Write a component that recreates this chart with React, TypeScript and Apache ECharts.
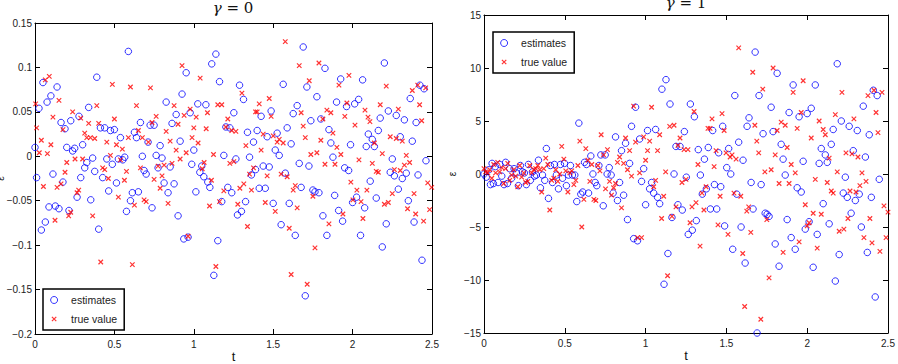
import React, { useEffect, useRef } from "react";
import * as echarts from "echarts";

// γ = 0 panel: estimated and true ε over t
const g0Estimates: [number, number][] = [
  [0, 0.010], [0.01, -0.024], [0.025, 0.054], [0.04, -0.083], [0.05, 0.083], [0.065, -0.074], [0.076, 0.061], [0.088, -0.057], [0.10, 0.068], [0.113, -0.020],
  [0.128, -0.056], [0.139, 0.078], [0.151, -0.059], [0.164, 0.038], [0.176, -0.029], [0.189, 0.031], [0.20, 0.010], [0.214, -0.061], [0.225, 0.040], [0.237, 0.006],
  [0.25, 0.009], [0.265, -0.046], [0.277, 0.045], [0.288, -0.024], [0.30, 0.013], [0.313, -0.013], [0.326, -0.007], [0.338, 0.055], [0.351, -0.049], [0.363, -0.002],
  [0.376, -0.017], [0.389, 0.089], [0.401, -0.082], [0.412, 0.032], [0.426, -0.024], [0.439, 0.032], [0.452, -0.003], [0.464, -0.039], [0.475, 0.029], [0.487, -0.009],
  [0.50, 0.030], [0.513, -0.030], [0.525, -0.003], [0.538, 0.021], [0.553, -0.004], [0.565, -0.001], [0.576, -0.062], [0.588, 0.118], [0.601, -0.050], [0.613, -0.041],
  [0.626, 0.027], [0.639, 0.021], [0.651, -0.040], [0.664, 0.038], [0.676, 0.000], [0.687, -0.016], [0.70, -0.020], [0.712, 0.016], [0.725, 0.035], [0.737, -0.058],
  [0.75, 0.035], [0.763, 0.001], [0.775, -0.013], [0.788, 0.012], [0.80, -0.002], [0.813, -0.030], [0.826, 0.061], [0.838, -0.041], [0.851, -0.012], [0.863, 0.037],
  [0.876, -0.031], [0.889, 0.047], [0.901, -0.067], [0.914, 0.017], [0.926, 0.070], [0.937, -0.093], [0.952, 0.094], [0.964, -0.091], [0.977, 0.049], [0.987, -0.009],
  [1.0, 0.007], [1.013, -0.040], [1.025, 0.059], [1.038, -0.018], [1.050, -0.011], [1.063, -0.023], [1.076, 0.058], [1.088, -0.029], [1.101, -0.035], [1.113, 0.104],
  [1.126, -0.134], [1.139, 0.115], [1.151, -0.095], [1.162, 0.084], [1.176, -0.051], [1.189, 0.001], [1.202, 0.033], [1.214, -0.035], [1.227, 0.032], [1.239, -0.041],
  [1.252, 0.049], [1.265, -0.003], [1.275, -0.066], [1.288, 0.080], [1.300, -0.062], [1.313, 0.064], [1.326, -0.051], [1.338, 0.027], [1.351, -0.001], [1.363, -0.021],
  [1.376, 0.016], [1.389, -0.015], [1.399, 0.029], [1.412, -0.036], [1.424, 0.045], [1.437, -0.011], [1.45, -0.036], [1.462, 0.022], [1.475, -0.012], [1.487, 0.051],
  [1.50, -0.053], [1.513, 0.007], [1.525, 0.026], [1.538, 0.001], [1.550, -0.077], [1.563, 0.081], [1.576, -0.019], [1.588, 0.032], [1.601, -0.053], [1.613, 0.014],
  [1.626, 0.048], [1.639, -0.089], [1.651, 0.057], [1.664, -0.008], [1.676, -0.035], [1.689, 0.123], [1.702, -0.157], [1.712, 0.078], [1.725, -0.011], [1.737, 0.040],
  [1.75, -0.038], [1.763, -0.040], [1.775, 0.067], [1.788, -0.041], [1.80, 0.042], [1.813, -0.067], [1.826, 0.099], [1.838, -0.089], [1.851, 0.030], [1.863, 0.015],
  [1.876, -0.001], [1.887, -0.044], [1.899, 0.061], [1.912, -0.061], [1.925, 0.087], [1.937, -0.073], [1.950, -0.013], [1.962, 0.056], [1.975, -0.016], [1.987, 0.013],
  [2.0, -0.052], [2.013, 0.059], [2.025, -0.046], [2.038, 0.064], [2.050, -0.089], [2.063, 0.086], [2.076, -0.058], [2.086, 0.011], [2.099, 0.025], [2.111, -0.028],
  [2.124, 0.019], [2.137, 0.011], [2.149, -0.047], [2.162, 0.029], [2.174, 0.043], [2.187, -0.102], [2.2, 0.105], [2.212, -0.076], [2.225, 0.051], [2.237, -0.018],
  [2.25, -0.003], [2.263, -0.022], [2.275, 0.046], [2.288, -0.037], [2.30, 0.022], [2.313, -0.025], [2.326, 0.041], [2.338, -0.019], [2.351, -0.050], [2.363, 0.065],
  [2.376, 0.017], [2.387, -0.074], [2.40, 0.038], [2.412, -0.021], [2.424, 0.080], [2.437, -0.117], [2.45, 0.076], [2.462, -0.005],
];

const g0TrueValues: [number, number][] = [
  [0.004, 0.059], [0.01, 0.032], [0.027, 0.004], [0.04, 0.018], [0.053, -0.034], [0.065, 0.086], [0.078, 0.003], [0.09, 0.090], [0.10, 0.013], [0.113, 0.044],
  [0.126, -0.072], [0.139, -0.035], [0.151, 0.063], [0.164, -0.031], [0.176, 0.030], [0.189, -0.018], [0.20, -0.007], [0.212, -0.067], [0.225, -0.063], [0.237, 0.050],
  [0.252, -0.003], [0.265, -0.041], [0.275, -0.038], [0.288, 0.043], [0.30, -0.003], [0.313, 0.026], [0.326, 0.021], [0.338, 0.037], [0.349, 0.021], [0.363, -0.067],
  [0.376, 0.020], [0.389, 0.057], [0.401, 0.037], [0.414, -0.119], [0.426, -0.013], [0.439, -0.015], [0.452, 0.016], [0.462, -0.025], [0.475, 0.001], [0.487, 0.081],
  [0.50, 0.042], [0.513, 0.013], [0.525, -0.046], [0.538, -0.004], [0.550, 0.008], [0.563, -0.027], [0.576, -0.017], [0.588, 0.021], [0.601, 0.078], [0.613, -0.122],
  [0.626, -0.055], [0.639, 0.057], [0.651, 0.029], [0.664, -0.013], [0.676, 0.021], [0.687, -0.049], [0.70, -0.051], [0.714, 0.016], [0.727, 0.077], [0.737, 0.038],
  [0.75, -0.026], [0.763, 0.045], [0.775, -0.011], [0.788, -0.036], [0.80, -0.022], [0.813, -0.010], [0.826, 0.028], [0.838, -0.053], [0.851, 0.017], [0.863, -0.008],
  [0.876, 0.057], [0.889, 0.007], [0.901, 0.036], [0.914, -0.003], [0.926, 0.102], [0.939, 0.046], [0.952, 0.004], [0.964, -0.090], [0.977, 0.053], [0.989, 0.021],
  [1.0, 0.032], [1.015, 0.044], [1.027, 0.015], [1.04, 0.088], [1.053, -0.014], [1.065, -0.007], [1.078, 0.031], [1.086, 0.049], [1.099, -0.056], [1.111, -0.027],
  [1.124, 0.002], [1.139, -0.124], [1.151, 0.058], [1.162, -0.051], [1.176, 0.058], [1.189, -0.039], [1.202, 0.033], [1.214, 0.042], [1.227, -0.008], [1.239, 0.029],
  [1.252, -0.006], [1.265, 0.028], [1.277, -0.054], [1.290, -0.036], [1.303, 0.071], [1.315, -0.031], [1.328, 0.012], [1.338, -0.079], [1.351, -0.020], [1.363, -0.038],
  [1.376, -0.013], [1.389, 0.050], [1.399, 0.050], [1.412, 0.059], [1.424, 0.007], [1.437, 0.025], [1.450, -0.052], [1.462, -0.022], [1.475, 0.065], [1.487, 0.045],
  [1.50, 0.023], [1.513, -0.062], [1.525, 0.016], [1.538, 0.019], [1.550, -0.020], [1.563, 0.015], [1.576, 0.129], [1.588, -0.023], [1.601, -0.081], [1.613, -0.133],
  [1.626, -0.038], [1.639, -0.033], [1.651, -0.058], [1.664, 0.102], [1.676, 0.049], [1.689, 0.034], [1.702, 0.021], [1.714, -0.144], [1.727, 0.085], [1.737, 0.002],
  [1.750, -0.045], [1.763, -0.103], [1.775, 0.004], [1.788, 0.105], [1.80, 0.018], [1.813, 0.042], [1.826, -0.009], [1.838, 0.052], [1.851, -0.076], [1.863, 0.049],
  [1.876, 0.026], [1.889, -0.009], [1.901, 0.010], [1.914, 0.080], [1.926, 0.002], [1.939, -0.065], [1.951, 0.045], [1.964, 0.060], [1.977, 0.091], [1.989, -0.029],
  [2.002, -0.049], [2.015, 0.035], [2.027, -0.038], [2.040, -0.004], [2.053, -0.051], [2.065, -0.070], [2.078, 0.052], [2.090, -0.038], [2.097, 0.044], [2.109, 0.039],
  [2.124, -0.008], [2.137, 0.015], [2.149, -0.017], [2.162, -0.018], [2.174, 0.058], [2.187, 0.003], [2.2, -0.054], [2.212, 0.079], [2.225, -0.052], [2.237, 0.022],
  [2.250, -0.042], [2.263, -0.015], [2.275, 0.020], [2.288, 0.053], [2.30, -0.016], [2.313, 0.017], [2.326, -0.010], [2.338, 0.001], [2.346, -0.059], [2.359, -0.007],
  [2.376, 0.074], [2.387, -0.042], [2.397, -0.065], [2.410, 0.080], [2.422, 0.058], [2.435, 0.040], [2.447, -0.073], [2.460, 0.077], [2.473, -0.030], [2.485, -0.060],
  [2.498, -0.035],
];

// γ = 1 panel: estimated and true ε over t
const g1Estimates: [number, number][] = [
  [0, 0], [0.014, -0.3], [0.03, 0.4], [0.04, -1.0], [0.05, 1.0], [0.058, -0.9], [0.07, 0.7], [0.087, -0.8], [0.097, 0.9], [0.11, -0.2],
  [0.124, -1.0], [0.134, 1.1], [0.145, -0.9], [0.159, 0.5], [0.171, -0.4], [0.186, 0.5], [0.2, 0.1], [0.213, -1.1], [0.225, 0.8], [0.238, 0.2],
  [0.25, 0.1], [0.262, -1.0], [0.275, 0.9], [0.287, -0.6], [0.3, 0.2], [0.312, -0.2], [0.324, -0.1], [0.337, 1.3], [0.349, -1.3], [0.362, -0.1],
  [0.376, -0.6], [0.386, 2.4], [0.399, -2.3], [0.411, 0.8], [0.424, -0.8], [0.436, 0.9], [0.448, -0.1], [0.461, -1.4], [0.473, 0.9], [0.486, -0.4],
  [0.498, 1.0], [0.51, -1.1], [0.523, -0.1], [0.535, 0.8], [0.547, -0.1], [0.562, -0.1], [0.574, -2.6], [0.587, 4.8], [0.599, -1.9], [0.611, -1.7],
  [0.622, 1.1], [0.634, 0.9], [0.647, -1.8], [0.661, 1.7], [0.674, 0.0], [0.688, -0.8], [0.698, -1.1], [0.711, 0.8], [0.723, 1.8], [0.738, -3.0],
  [0.75, 1.8], [0.762, 0.0], [0.775, 0.6], [0.787, -0.1], [0.799, -1.8], [0.814, 3.5], [0.826, -2.5], [0.839, -0.8], [0.851, 2.2], [0.864, -2.0],
  [0.876, 2.9], [0.888, -4.3], [0.901, 1.0], [0.913, 4.5], [0.926, -6.1], [0.938, 6.3], [0.95, -6.3], [0.963, 3.3], [0.975, -0.7], [0.988, 0.5],
  [1.0, -2.9], [1.012, 4.1], [1.025, -1.4], [1.037, -0.8], [1.05, -1.8], [1.062, 4.2], [1.074, -2.2], [1.087, -2.8], [1.101, 8.0], [1.114, -10.4],
  [1.126, 8.9], [1.138, -7.5], [1.151, 6.6], [1.163, -4.1], [1.176, 0.0], [1.188, 2.6], [1.2, -2.9], [1.213, 2.6], [1.227, -3.4], [1.24, 4.0],
  [1.252, -0.3], [1.264, -5.7], [1.277, 6.6], [1.289, -5.3], [1.302, 5.4], [1.314, -4.4], [1.326, 2.3], [1.339, -0.1], [1.351, -1.9], [1.364, 1.4],
  [1.376, -1.4], [1.388, 2.5], [1.401, -3.3], [1.415, 4.1], [1.426, -1.0], [1.44, -3.3], [1.452, 2.0], [1.465, -1.2], [1.477, 4.5], [1.489, -4.9],
  [1.502, 0.6], [1.514, 2.4], [1.527, 0.0], [1.539, -7.1], [1.552, 7.4], [1.564, -1.9], [1.576, 3.0], [1.591, -5.0], [1.603, 1.3], [1.616, -8.4],
  [1.628, 4.5], [1.64, 5.3], [1.653, -0.8], [1.665, -3.3], [1.678, 11.5], [1.69, -15], [1.702, 7.4], [1.715, -1.0], [1.727, 3.8], [1.74, -3.7],
  [1.752, -3.8], [1.764, -4.0], [1.777, 6.3], [1.789, 4.0], [1.802, -6.6], [1.814, 9.5], [1.826, -8.7], [1.839, 2.8], [1.851, 1.4], [1.864, -0.1],
  [1.876, -4.3], [1.888, 5.8], [1.901, -6.0], [1.913, 8.4], [1.926, -7.1], [1.938, -1.3], [1.95, 5.4], [1.963, -1.7], [1.975, 1.2], [1.988, -5.2],
  [2.0, 5.7], [2.012, -4.5], [2.025, 6.2], [2.037, -8.8], [2.05, 8.4], [2.062, -5.7], [2.074, 1.0], [2.087, 2.4], [2.099, -2.8], [2.112, 1.8],
  [2.124, 1.1], [2.136, -4.7], [2.149, 2.8], [2.161, 4.2], [2.174, -10.1], [2.186, 10.4], [2.198, -7.6], [2.211, 5.0], [2.223, -1.8], [2.236, -0.3],
  [2.248, -2.2], [2.26, 4.5], [2.272, -3.7], [2.285, 2.2], [2.298, -2.5], [2.31, 4.1], [2.322, -1.9], [2.335, -5.0], [2.347, 6.4], [2.36, 1.6],
  [2.372, -7.4], [2.384, 3.7], [2.397, -2.2], [2.409, 7.9], [2.421, -11.6], [2.433, 7.4], [2.446, -0.5],
];

const g1TrueValues: [number, number][] = [
  [0, 0.5], [0.01, 0.2], [0.023, 0.1], [0.035, 0.4], [0.048, -0.4], [0.06, 0.9], [0.072, 0.1], [0.085, 1.1], [0.097, 0.2], [0.11, 0.6],
  [0.122, -0.9], [0.134, 0.5], [0.147, 1.0], [0.159, -0.6], [0.171, -0.1], [0.184, 0.4], [0.196, -0.2], [0.209, -1.2], [0.221, 0.8], [0.233, -0.3],
  [0.246, 0.1], [0.258, -0.8], [0.271, -0.7], [0.283, 0.8], [0.295, 0.1], [0.308, 0.4], [0.32, 0.5], [0.333, 0.8], [0.345, 0.4], [0.357, -1.7],
  [0.37, 0.5], [0.382, 1.5], [0.395, 0.9], [0.407, -3.4], [0.419, -0.6], [0.432, -0.4], [0.444, 0.4], [0.457, -0.7], [0.469, 0.0], [0.481, 2.6],
  [0.494, 1.4], [0.506, 0.3], [0.519, -1.7], [0.531, 0.1], [0.543, 0.3], [0.556, -1.0], [0.568, -0.6], [0.581, 0.8], [0.593, 3.1], [0.605, -5.0],
  [0.618, -2.4], [0.63, 2.4], [0.643, 1.3], [0.655, -0.7], [0.667, 0.9], [0.68, -2.4], [0.692, -2.5], [0.705, 0.8], [0.717, 0.3], [0.725, 3.7],
  [0.74, 1.8], [0.752, -1.4], [0.764, 2.3], [0.777, -0.7], [0.789, -2.0], [0.802, -1.3], [0.814, -0.9], [0.826, 1.1], [0.839, 1.6], [0.851, -3.2],
  [0.864, 1.0], [0.876, 3.4], [0.888, 0.4], [0.901, 2.2], [0.913, -0.2], [0.926, 6.4], [0.938, 3.0], [0.95, -6.0], [0.963, 0.1], [0.975, -6.0],
  [0.988, 3.5], [1.0, 1.3], [1.012, 2.2], [1.025, 3.1], [1.037, 6.3], [1.05, -1.2], [1.062, -0.6], [1.074, 2.2], [1.087, 3.7], [1.099, -4.2],
  [1.112, -2.1], [1.124, 0.2], [1.136, -9.6], [1.149, 4.5], [1.163, -4.0], [1.176, 4.6], [1.188, -3.1], [1.2, 2.7], [1.213, 3.4], [1.225, -0.8],
  [1.238, 2.3], [1.25, -0.5], [1.262, 2.3], [1.275, -4.6], [1.287, -3.1], [1.3, 5.9], [1.312, -2.7], [1.324, 0.9], [1.337, -6.8], [1.349, -1.8],
  [1.361, -3.4], [1.374, -1.2], [1.386, 4.3], [1.399, 4.3], [1.411, 5.2], [1.424, 0.7], [1.436, 2.2], [1.448, -4.8], [1.461, -2.1], [1.473, 5.7],
  [1.486, 4.1], [1.498, 2.0], [1.51, -5.7], [1.523, 1.6], [1.535, 1.8], [1.547, -1.8], [1.56, 1.4], [1.576, 11.9], [1.589, -2.1], [1.601, -7.5],
  [1.613, -12.5], [1.626, -3.5], [1.638, -3.1], [1.651, -5.5], [1.663, 9.6], [1.676, 4.6], [1.688, 3.1], [1.7, 2.0], [1.713, -13.7], [1.725, 8.0],
  [1.738, 0.2], [1.75, -4.3], [1.764, -9.8], [1.777, 0.4], [1.789, 10.0], [1.802, 1.8], [1.814, 4.1], [1.826, -0.9], [1.839, 4.9], [1.851, -7.4],
  [1.864, 4.6], [1.876, 2.5], [1.888, -0.9], [1.901, 0.9], [1.913, 7.7], [1.926, 0.1], [1.938, 4.3], [1.95, -6.4], [1.963, 5.8], [1.975, 8.8],
  [1.988, -2.9], [2.0, -4.9], [2.012, -4.6], [2.025, 3.4], [2.037, -3.7], [2.05, -0.5], [2.062, -7.0], [2.074, 5.0], [2.087, -3.8], [2.099, 4.2],
  [2.112, 3.7], [2.124, -0.8], [2.136, 1.5], [2.149, -1.6], [2.161, -1.8], [2.174, 5.6], [2.186, 0.2], [2.198, -5.4], [2.215, 7.7], [2.227, -5.2],
  [2.24, 2.0], [2.252, -4.2], [2.265, -1.6], [2.277, 1.9], [2.289, 5.2], [2.302, -1.7], [2.314, 1.6], [2.326, -1.1], [2.339, 0.1], [2.351, -6.0],
  [2.364, -0.7], [2.376, 7.4], [2.388, -4.2], [2.401, -6.5], [2.413, 7.9], [2.426, 5.8], [2.438, 3.9], [2.45, -7.3], [2.463, 7.7], [2.475, -3.0],
  [2.488, -6.0], [2.5, -3.6],
];

const gammaValues = ["0", "1"];
const seriesNames = ["estimates", "true value"];
const tRange = [0, 2.5, 0.5];
const epsRanges = [
  [-0.2, 0.15, 0.05],
  [-15, 15, 5],
];

const FONT = '"Liberation Sans", Arial, Helvetica, sans-serif';
const SERIF = '"DejaVu Serif", "Liberation Serif", serif';
const CROSS = "path://M0,0L10,10M10,0L0,10";

const fmt = (v: number) => String(+v.toFixed(3)).replace("-", "\u2212");

export default function App() {
  const ref = useRef<HTMLDivElement>(null);

  useEffect(() => {
    if (!ref.current) return;
    const chart = echarts.init(ref.current, null, { renderer: "svg" });

    const grids = [
      { left: 35, top: 23, width: 397, height: 311, containLabel: false, outerBoundsMode: "none" },
      { left: 484, top: 15, width: 404, height: 318, containLabel: false, outerBoundsMode: "none" },
    ];
    const yNameGaps = [30, 27];
    const titlePos = [
      { left: 233, top: 0 },
      { left: 686, top: -5 },
    ];
    const legendPos = [
      { left: 43, top: 289 },
      { left: 493, top: 32 },
    ];
    const panels = [
      [g0Estimates, g0TrueValues],
      [g1Estimates, g1TrueValues],
    ];

    const frameLine = { onZero: false, lineStyle: { color: "#000", width: 1 } };
    const tick = { inside: true, length: 5, lineStyle: { color: "#000", width: 1 } };
    const label = { fontSize: 10, color: "#222", fontFamily: FONT, formatter: fmt };

    const xAxis: any[] = [];
    const yAxis: any[] = [];
    const series: any[] = [];

    grids.forEach((_, i) => {
      const [yMin, yMax, yStep] = epsRanges[i];
      const xBase = { gridIndex: i, type: "value", min: tRange[0], max: tRange[1], interval: tRange[2], splitLine: { show: false }, axisLine: frameLine, axisTick: tick };
      const yBase = { gridIndex: i, type: "value", min: yMin, max: yMax, interval: yStep, splitLine: { show: false }, axisLine: frameLine, axisTick: tick };
      xAxis.push({
        ...xBase,
        position: "bottom",
        axisLabel: { ...label, margin: 5 },
        name: "t",
        nameLocation: "middle",
        nameGap: 16,
        nameMoveOverlap: false,
        nameTextStyle: { fontSize: 13, color: "#111", fontFamily: FONT, lineHeight: 13 },
      });
      xAxis.push({ ...xBase, position: "top", axisLabel: { show: false } });
      yAxis.push({
        ...yBase,
        position: "left",
        axisLabel: { ...label, margin: 3 },
        name: "ε",
        nameLocation: "middle",
        nameRotate: 90,
        nameGap: yNameGaps[i],
        nameMoveOverlap: false,
        nameTextStyle: { fontSize: 10, color: "#222", fontFamily: FONT, lineHeight: 10 },
      });
      yAxis.push({ ...yBase, position: "right", axisLabel: { show: false } });

      const [est, tru] = panels[i];
      series.push({
        type: "scatter",
        name: seriesNames[0],
        xAxisIndex: i * 2,
        yAxisIndex: i * 2,
        data: est,
        symbol: "circle",
        symbolSize: 6.5,
        clip: false,
        itemStyle: { color: "transparent", borderColor: "#0000ff", borderWidth: 1 },
      });
      series.push({
        type: "scatter",
        name: seriesNames[1],
        xAxisIndex: i * 2,
        yAxisIndex: i * 2,
        data: tru,
        symbol: CROSS,
        symbolSize: 4.5,
        clip: false,
        itemStyle: { color: "transparent", borderColor: "#ff0000", borderWidth: 1.2 },
      });
    });

    const legend = legendPos.map((p) => ({
      ...p,
      orient: "vertical",
      padding: [5, 7, 5, 7],
      itemWidth: 24,
      itemHeight: 7,
      itemGap: 7,
      borderColor: "#000",
      borderWidth: 1.5,
      backgroundColor: "#fff",
      selectedMode: false,
      textStyle: { fontSize: 10.5, color: "#222", fontFamily: FONT, lineHeight: 12 },
      data: [
        { name: seriesNames[0], icon: "circle", itemStyle: { borderWidth: 1 } },
        { name: seriesNames[1], icon: "path://M-3,-3M0,0L10,10M10,0L0,10M13,13", itemStyle: { borderWidth: 1.2 } },
      ],
    }));

    const title = titlePos.map((p, i) => ({
      ...p,
      text: `{g|γ} = ${gammaValues[i]}`,
      textAlign: "center",
      padding: 0,
      textStyle: {
        fontSize: 15,
        fontWeight: "normal",
        color: "#111",
        fontFamily: SERIF,
        rich: { g: { fontSize: 15, fontStyle: "italic", fontFamily: SERIF, color: "#111" } },
      },
    }));

    chart.setOption({
      animation: false,
      backgroundColor: "#fff",
      grid: grids,
      title,
      legend,
      xAxis,
      yAxis,
      series,
    });

    return () => chart.dispose();
  }, []);

  return <div ref={ref} style={{ position: "fixed", left: 0, top: 0, width: 898, height: 364 }} />;
}
